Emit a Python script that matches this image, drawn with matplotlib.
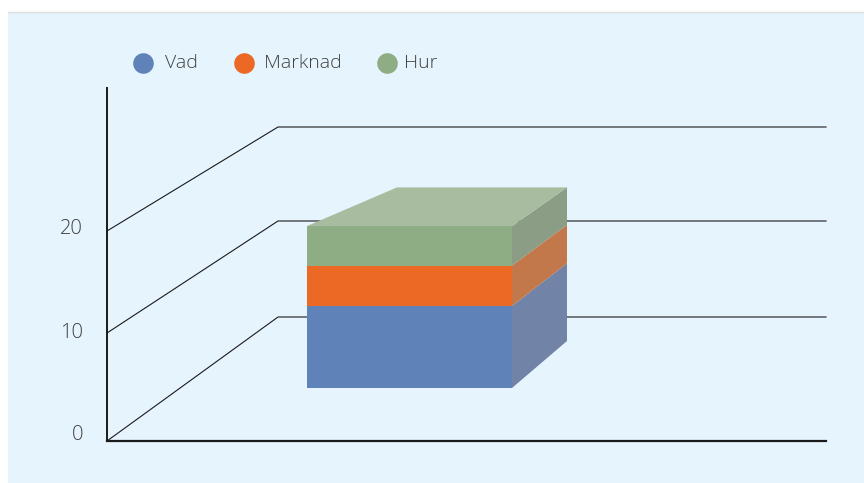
import numpy as np
import matplotlib
matplotlib.use("Agg")
import matplotlib.pyplot as plt
from matplotlib.patches import Polygon, Rectangle

plt.rcParams["font.family"] = ["Open Sans", "DejaVu Sans"]

series = ["Vad", "Marknad", "Hur"]
values = [8.1, 4.0, 3.9]
front_colors = ["#5f83b9", "#ec6825", "#8ead85"]
side_colors = ["#7183a6", "#c2784a", "#8b9e85"]
top_color = "#a8bc9f"
ticks = [0, 10, 20]

TEXT = "#404040"
BG = "#e6f4fd"

# projected wall geometry, pixels of the 864x483 picture
wall_front_y = [441, 333, 231]
wall_back_y = [317, 221, 127]
wall_front_x, wall_back_x, wall_end_x = 107, 278, 826
axis_top_y = 88

# bar box: front and back planes
bar_front_base, bar_front_scale = 388, 10.12
bar_back_base, bar_back_scale = 341, 9.6
bar_x0, bar_x1 = 307, 512
back_x0, back_x1 = 397, 567

legend_dot_x = [143, 244, 387]
legend_text_x = [165, 264, 404]
legend_y = 63

fig = plt.figure(figsize=(8.64, 4.83), dpi=100, facecolor="white")
ax = fig.add_axes([0, 0, 1, 1])
ax.set_xlim(0, 864)
ax.set_ylim(483, 0)
ax.axis("off")

ax.add_patch(Rectangle((8, 12), 856, 471, facecolor=BG, edgecolor="none"))
ax.plot([8, 864], [12, 12], color="#dcdfe2", lw=1)

# grid lines: up the side wall, then along the back wall
for t, fy, by in zip(ticks, wall_front_y, wall_back_y):
    ax.plot([wall_front_x, wall_back_x, wall_end_x], [fy, by, by],
            color="#1a1a1a", lw=0.8, zorder=2)

ax.plot([wall_front_x, wall_front_x], [axis_top_y, wall_front_y[0]],
        color="#1a1a1a", lw=1.4, zorder=3)
ax.plot([wall_front_x, wall_end_x], [wall_front_y[0], wall_front_y[0]],
        color="#1a1a1a", lw=1.6, zorder=3)

tick_label_y = [435, 333, 229]
for t, y in zip(ticks, tick_label_y):
    ax.text(83, y, str(t), ha="right", va="center", fontsize=14.5,
            color=TEXT, fontweight="light")

# stacked box
front_tops = bar_front_base - bar_front_scale * np.cumsum(values)
back_tops = bar_back_base - bar_back_scale * np.cumsum(values)
front_bots = np.r_[bar_front_base, front_tops[:-1]]
back_bots = np.r_[bar_back_base, back_tops[:-1]]

for i in range(len(values)):
    ax.add_patch(Polygon([(bar_x0, front_bots[i]), (bar_x1, front_bots[i]),
                          (bar_x1, front_tops[i]), (bar_x0, front_tops[i])],
                         facecolor=front_colors[i], edgecolor="none", zorder=4))
    ax.add_patch(Polygon([(bar_x1, front_bots[i]), (back_x1, back_bots[i]),
                          (back_x1, back_tops[i]), (bar_x1, front_tops[i])],
                         facecolor=side_colors[i], edgecolor="none", zorder=4))

ax.add_patch(Polygon([(bar_x0, front_tops[-1]), (bar_x1, front_tops[-1]),
                      (back_x1, back_tops[-1]), (back_x0, back_tops[-1])],
                     facecolor=top_color, edgecolor="none", zorder=4))

# legend
for name, col, dx, tx in zip(series, front_colors, legend_dot_x, legend_text_x):
    ax.scatter([dx], [legend_y], s=220, color=col, linewidths=0, zorder=5)
    ax.text(tx, legend_y, name, ha="left", va="center", fontsize=14,
            color=TEXT, fontweight="light")

fig.savefig("out.png", dpi=100)
plt.close(fig)
